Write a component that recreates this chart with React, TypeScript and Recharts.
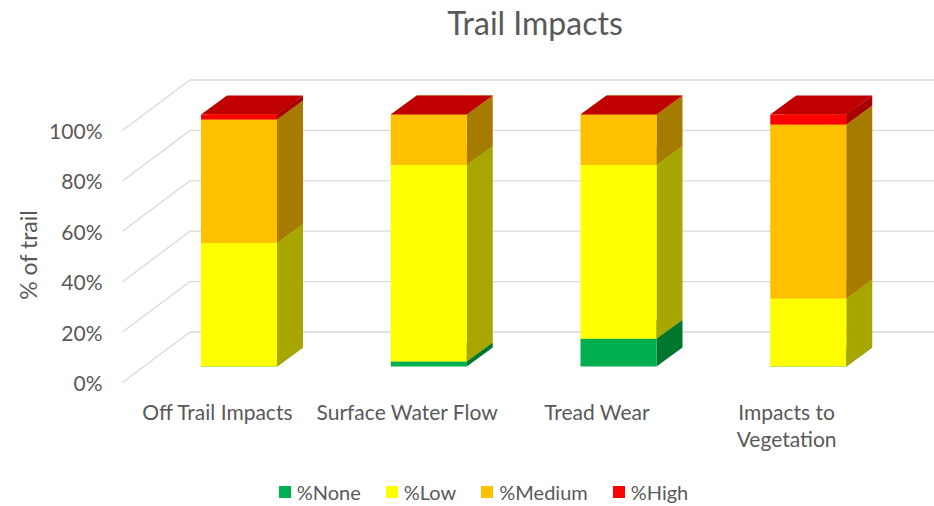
import { BarChart, Bar, XAxis, YAxis, CartesianGrid, Legend } from "recharts";

const categories = ["Off Trail Impacts", "Surface Water Flow", "Tread Wear", "Impacts to Vegetation"];
const noneValues = [0, 2, 11, 0];
const lowValues = [49, 78, 69, 27];
const mediumValues = [49, 20, 20, 69];
const highValues = [2, 0, 0, 4];
const yTicks = [0, 20, 40, 60, 80, 100];

const data = categories.map((name, i) => ({
  name,
  none: noneValues[i],
  low: lowValues[i],
  medium: mediumValues[i],
  high: highValues[i],
}));

const series = [
  { key: "none", name: "%None", face: "#00B050", side: "#00762F", top: "#008A3C" },
  { key: "low", name: "%Low", face: "#FFFF00", side: "#A8A600", top: "#C8C800" },
  { key: "medium", name: "%Medium", face: "#FFC000", side: "#A67C00", top: "#C89600" },
  { key: "high", name: "%High", face: "#FF0000", side: "#A80000", top: "#C00000" },
];

const W = 934;
const H = 506;
const PLOT_LEFT = 144;
const PLOT_TOP = 114.5;
const PLOT_W = 759;
const PLOT_H = 252;
const AXIS_W = 30;
const AXIS_H = 30;
const FRONT = { dx: -21.5, dy: 16 };
const BACK = { dx: 46, dy: -34.5 };
const DEPTH = { dx: 26, dy: 19 };
const TEXT = "#595959";
const FONT = "Lato, 'Open Sans', sans-serif";

const Box3D = (props: any) => {
  const { x, y, width, height, face, side, top } = props;
  const xr = x + width;
  const yb = y + height;
  return (
    <g>
      <polygon
        points={`${x},${y} ${x + DEPTH.dx},${y - DEPTH.dy} ${xr + DEPTH.dx},${y - DEPTH.dy} ${xr},${y}`}
        fill={top}
      />
      <polygon
        points={`${xr},${y} ${xr + DEPTH.dx},${y - DEPTH.dy} ${xr + DEPTH.dx},${yb - DEPTH.dy} ${xr},${yb}`}
        fill={side}
      />
      <rect x={x} y={y} width={width} height={height} fill={face} />
    </g>
  );
};

const GridLine = (props: any) => {
  const { x1, y1, index } = props;
  return (
    <g key={`grid-${index}`}>
      <line
        x1={x1 + FRONT.dx}
        y1={y1 + FRONT.dy}
        x2={x1 + BACK.dx}
        y2={y1 + BACK.dy}
        stroke="#D9D9D9"
        strokeWidth={1.3}
      />
      <line x1={x1 + BACK.dx} y1={y1 + BACK.dy} x2={W} y2={y1 + BACK.dy} stroke="#D9D9D9" strokeWidth={1.3} />
    </g>
  );
};

const YTick = (props: any) => {
  const { y, payload } = props;
  return (
    <text
      x={PLOT_LEFT + FRONT.dx - 20}
      y={y + FRONT.dy}
      textAnchor="end"
      dominantBaseline="central"
      fill={TEXT}
      fontSize={21}
      fontFamily={FONT}
    >
      {payload.value}%
    </text>
  );
};

const wrapLabel = (s: string, max: number) => {
  const lines: string[] = [];
  let cur = "";
  s.split(" ").forEach((w) => {
    const next = cur ? `${cur} ${w}` : w;
    if (next.length > max && cur) {
      lines.push(cur);
      cur = w;
    } else {
      cur = next;
    }
  });
  if (cur) lines.push(cur);
  return lines;
};

const XTick = (props: any) => {
  const { x, payload } = props;
  const lines = wrapLabel(payload.value, 18);
  return (
    <text
      x={x + FRONT.dx}
      y={PLOT_TOP + PLOT_H + FRONT.dy + 28.5}
      textAnchor="middle"
      dominantBaseline="central"
      fill={TEXT}
      fontSize={21}
      fontFamily={FONT}
    >
      {lines.map((l, i) => (
        <tspan key={l} x={x + FRONT.dx} dy={i === 0 ? 0 : 26.5}>
          {l}
        </tspan>
      ))}
    </text>
  );
};

const LegendContent = () => (
  <div
    style={{
      display: "flex",
      justifyContent: "center",
      alignItems: "center",
      gap: 25,
      paddingLeft: 33,
      fontFamily: FONT,
      fontSize: 20,
      color: TEXT,
    }}
  >
    {series.map((s) => (
      <div key={s.key} style={{ display: "flex", alignItems: "center", gap: 6 }}>
        <span style={{ width: 12, height: 12, background: s.face, display: "inline-block" }} />
        <span>{s.name}</span>
      </div>
    ))}
  </div>
);

const App = () => {
  return (
    <div style={{ position: "absolute", left: 0, top: 0, width: W, height: H, background: "#fff" }}>
      <div
        style={{
          position: "absolute",
          left: 385,
          width: 300,
          top: 3,
          textAlign: "center",
          fontFamily: FONT,
          fontSize: 32,
          color: TEXT,
        }}
      >
        Trail Impacts
      </div>
      <div
        style={{
          position: "absolute",
          left: 28,
          top: 255,
          transform: "translate(-50%, -50%) rotate(-90deg)",
          whiteSpace: "nowrap",
          fontFamily: FONT,
          fontSize: 23,
          color: TEXT,
        }}
      >
        % of trail
      </div>
      <BarChart
        width={W}
        height={H}
        data={data}
        margin={{
          top: PLOT_TOP,
          left: PLOT_LEFT - AXIS_W,
          right: W - PLOT_LEFT - PLOT_W,
          bottom: H - PLOT_TOP - PLOT_H - AXIS_H,
        }}
      >
        <CartesianGrid vertical={false} horizontal={GridLine} />
        <XAxis dataKey="name" height={AXIS_H} axisLine={false} tickLine={false} tick={XTick} interval={0} />
        <YAxis
          width={AXIS_W}
          domain={[0, 100]}
          ticks={yTicks}
          interval={0}
          axisLine={false}
          tickLine={false}
          tick={YTick}
        />
        <Legend
          layout="horizontal"
          verticalAlign="middle"
          align="center"
          wrapperStyle={{ top: 480, left: 0, width: W }}
          content={LegendContent}
        />
        {series.map((s) => (
          <Bar
            key={s.key}
            dataKey={s.key}
            name={s.name}
            stackId="a"
            fill={s.face}
            barSize={76}
            isAnimationActive={false}
            shape={(p: any) => <Box3D {...p} face={s.face} side={s.side} top={s.top} />}
          />
        ))}
      </BarChart>
    </div>
  );
};

export default App;
